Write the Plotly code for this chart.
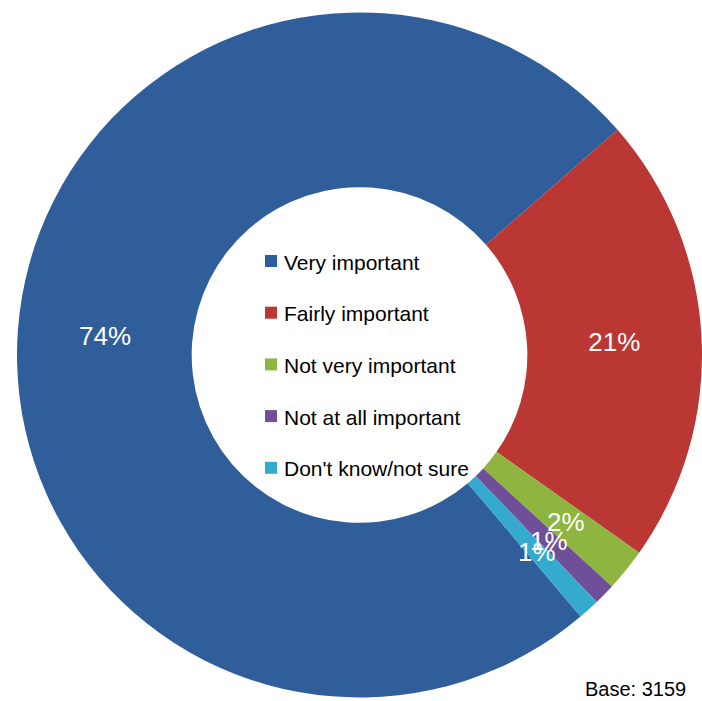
import math
import plotly.graph_objects as go

# Survey answers: how important is it?
categories = ["Very important", "Fairly important", "Not very important",
              "Not at all important", "Don't know/not sure"]
percentages = [74, 21, 2, 1, 1]
colors = ["#2F5E9B", "#BA3733", "#8DB540", "#6F4F97", "#34AACE"]
base_note = "Base: 3159"

W, H = 702, 701
ROTATION = 139.8
HOLE = 0.49
DOMAIN_X = [17 / W, 1.0]
DOMAIN_Y = [1 - 700 / H, 1 - 10 / H]
font_family = "Arial, Liberation Sans, sans-serif"
small = [v < 5 for v in percentages]

fig = go.Figure()
fig.add_trace(go.Pie(
    labels=categories,
    values=percentages,
    # large slices get their label from the pie itself; thin ones are annotated below
    text=["" if s else f"{v}%" for v, s in zip(percentages, small)],
    textinfo="text",
    textposition="inside",
    insidetextorientation="horizontal",
    textfont=dict(family=font_family, size=26, color="white"),
    marker=dict(colors=colors, line=dict(width=0)),
    hole=HOLE,
    sort=False,
    direction="clockwise",
    rotation=ROTATION,
    hoverinfo="skip",
    showlegend=False,
    domain=dict(x=DOMAIN_X, y=DOMAIN_Y),
))

# Pie geometry in pixels (radius = half of the smaller domain side)
dom_w = (DOMAIN_X[1] - DOMAIN_X[0]) * W
dom_h = (DOMAIN_Y[1] - DOMAIN_Y[0]) * H
radius = min(dom_w, dom_h) / 2
cx = (DOMAIN_X[0] + DOMAIN_X[1]) / 2 * W
cy = (1 - (DOMAIN_Y[0] + DOMAIN_Y[1]) / 2) * H

annotations, shapes = [], []

# Labels for the thin slices, at the slice's mid-angle inside the ring
total = sum(percentages)
start = ROTATION
for v, s in zip(percentages, small):
    span = v / total * 360
    mid = math.radians(start + span / 2)
    start += span
    if not s:
        continue
    r = radius * 0.775
    px = cx + r * math.sin(mid)
    py = cy - r * math.cos(mid)
    annotations.append(dict(
        text=f"{v}%", xref="paper", yref="paper",
        x=px / W, y=1 - py / H, xanchor="center", yanchor="middle",
        showarrow=False, font=dict(family=font_family, size=26, color="white"),
    ))

# Legend drawn inside the hole: square swatch + label per category
top_y, step = 261, 51.7
box = 12
sw_x0 = 265
for i, (name, col) in enumerate(zip(categories, colors)):
    ly = top_y + i * step
    shapes.append(dict(
        type="rect", xref="paper", yref="paper",
        x0=sw_x0 / W, x1=(sw_x0 + box) / W,
        y0=1 - (ly + box / 2) / H, y1=1 - (ly - box / 2) / H,
        fillcolor=col, line=dict(width=0),
    ))
    annotations.append(dict(
        text=name, xref="paper", yref="paper",
        x=282 / W, y=1 - (ly + 1) / H, xanchor="left", yanchor="middle",
        showarrow=False, font=dict(family=font_family, size=21, color="#000000"),
    ))

annotations.append(dict(
    text=base_note, xref="paper", yref="paper",
    x=688 / W, y=1 - 689 / H, xanchor="right", yanchor="middle",
    showarrow=False, font=dict(family=font_family, size=20, color="#000000"),
))

fig.update_layout(
    width=W, height=H,
    margin=dict(l=0, r=0, t=0, b=0),
    paper_bgcolor="white",
    plot_bgcolor="white",
    shapes=shapes,
    annotations=annotations,
    uniformtext=dict(minsize=26, mode="show"),
)

fig.write_html("out.html")
